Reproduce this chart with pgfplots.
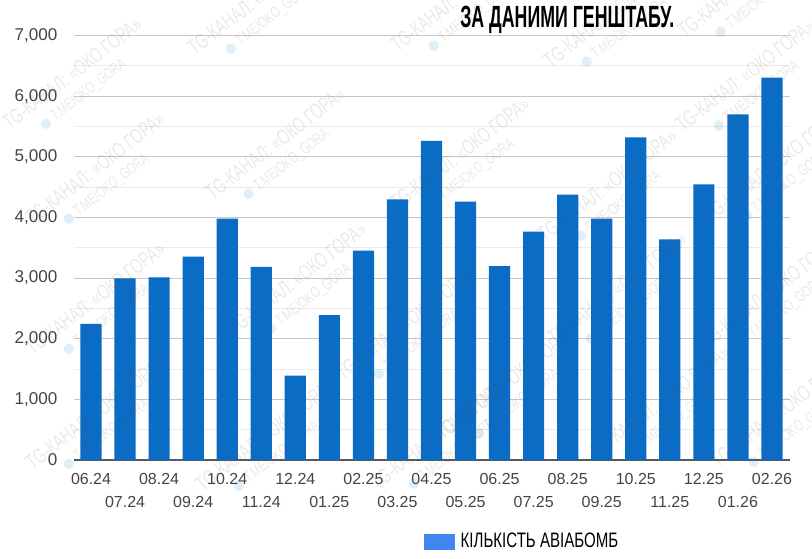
\documentclass[border=0pt]{standalone}
\usepackage{fontspec}
\usepackage{pgfplots}
\pgfplotsset{compat=1.18}
\setmainfont{Liberation Sans}
\newfontfamily\narrowfont[FakeStretch=0.72]{Liberation Sans}
\newfontfamily\narrowbold[FakeStretch=0.58]{Liberation Sans Bold}
\newfontfamily\wmfont[FakeStretch=0.68]{Liberation Sans}
\newfontfamily\dejavu{DejaVu Sans}
\definecolor{barblue}{HTML}{0B6CC6}
\definecolor{legblue}{HTML}{4285F0}
\definecolor{tick}{HTML}{444444}
\newcommand{\wm}[2]{\node[rotate=37.5,anchor=south west,inner sep=0pt,align=left,text=gray!70!black,text opacity=0.13,font=\wmfont\fontsize{16}{13}\selectfont] at ({(#1+12)*0.75pt},{(558-#2-15)*0.75pt}) {TG-КАНАЛ: «ОКО ГОРА»\\[2.5pt]\hspace{20pt}{\dejavu\fontsize{10}{13}\selectfont\textcolor{cyan!60!blue}{●}} {\fontsize{12}{13}\selectfont T.ME/OKO\_GORA}};}
\pgfplotstableread{
idx value
0 2243
1 2996
2 3012
3 3353
4 3980
5 3183
6 1390
7 2391
8 3452
9 4299
10 5261
11 4260
12 3199
13 3765
14 4375
15 3980
16 5321
17 3639
18 4546
19 5700
20 6305
}\bombs
\begin{document}
\begin{tikzpicture}
\useasboundingbox (0,0) rectangle (609pt,418.5pt);
\begin{axis}[
  at={(55.5pt,73.5pt)}, anchor=south west,
  scale only axis, width=537pt, height=318.375pt,
  xmin=-0.5, xmax=20.53, ymin=0, ymax=7000,
  axis x line*=bottom, axis y line*=left,
  y axis line style={draw=none},
  x axis line style={draw=black!65, line width=0.8pt},
  major tick length=0pt, minor tick length=0pt,
  ytick={0,1000,...,7000}, minor ytick={500,1500,...,6500},
  ymajorgrids, yminorgrids,
  major grid style={draw=black!22, line width=0.75pt},
  minor grid style={draw=black!8, line width=0.75pt},
  /pgf/number format/assume math mode=true,
  /pgf/number format/1000 sep={,},
  scaled y ticks=false,
  yticklabel style={font=\fontsize{12.8}{14}\selectfont, text=tick, xshift=-9pt},
  xtick=data,
  xticklabels={06.24,{\mbox{}\\[11.5pt]07.24},08.24,{\mbox{}\\[11.5pt]09.24},10.24,{\mbox{}\\[11.5pt]11.24},12.24,{\mbox{}\\[11.5pt]01.25},02.25,{\mbox{}\\[11.5pt]03.25},04.25,{\mbox{}\\[11.5pt]05.25},06.25,{\mbox{}\\[11.5pt]07.25},08.25,{\mbox{}\\[11.5pt]09.25},10.25,{\mbox{}\\[11.5pt]11.25},12.25,{\mbox{}\\[11.5pt]01.26},02.26},
  xticklabel style={font=\fontsize{12}{14}\selectfont, text=tick, align=center, anchor=north, yshift=-6.5pt},
  legend style={at={(0.489,-0.218)}, anchor=south west, draw=none, fill=none, inner sep=0pt, outer sep=0pt,
    font=\narrowfont\fontsize{15.7}{16}\selectfont, text=black},
  legend cell align=left,
  legend image code/.code={\fill[legblue] (0,-5.6pt) rectangle (22.5pt,5.6pt);},
]
\addplot[ybar, bar width=15.9pt, fill=barblue, draw=none, forget plot] table[x=idx,y=value] {\bombs};
\addlegendimage{fill=legblue}
\addlegendentry{\hspace{2.5pt}КІЛЬКІСТЬ АВІАБОМБ}
\end{axis}
\foreach \a/\b in {12/135,35/230,35/360,35/475,197/60,215/205,237/340,205/497,400/57,345/385,400/215,445/445,553/73,547/247,557/350,600/463,687/43,685/137,713/227,710/353,720/473,380/495}{\wm{\a}{\b}}
\node[anchor=base west,inner sep=0pt,font=\narrowbold\fontsize{23}{24}\selectfont,text=black] at (345pt,{(558-28)*0.75pt}) {ЗА ДАНИМИ ГЕНШТАБУ.};
\end{tikzpicture}
\end{document}
